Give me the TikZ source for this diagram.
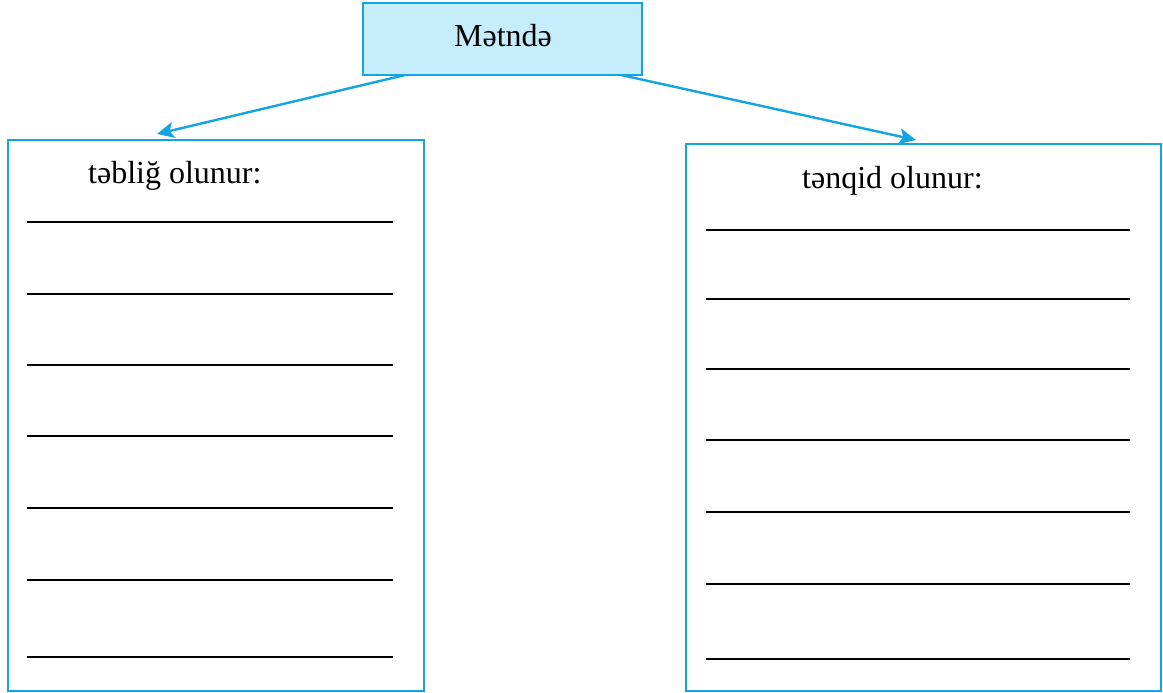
\documentclass[tikz,border=0pt]{standalone}
\usepackage{fontspec}
\setmainfont{Liberation Serif}
\usetikzlibrary{arrows.meta}
\definecolor{boxblue}{HTML}{12A4E3}
\definecolor{boxfill}{HTML}{C5EDFC}
\begin{document}
\begin{tikzpicture}[x=1pt,y=-1pt,
  frame/.style={draw=boxblue,line width=2.2pt},
  pointer/.style={boxblue,line width=2.4pt,-{Stealth[length=17pt,width=16pt,inset=4pt]}},
  label/.style={font=\fontsize{32}{38}\selectfont,inner sep=0pt},
  blank/.style={line width=2.4pt}]
\useasboundingbox (0,0) rectangle (1163,693);
% top box
\node[frame,fill=boxfill,minimum width=279pt,minimum height=72pt,inner sep=0pt] (top) at (502.5,39) {};
\node[label] (topText) at (503,36) {Mətndə};
% the two boxes
\node[frame,minimum width=416pt,minimum height=551pt,inner sep=0pt] (left) at (216,415.5) {};
\node[frame,minimum width=475pt,minimum height=547pt,inner sep=0pt] (right) at (923.5,417.5) {};
\node[label,anchor=west] (leftText) at (88,176) {təbliğ olunur:};
\node[label,anchor=west] (rightText) at (802,181) {tənqid olunur:};
% arrows
\coordinate (leftFrom) at (405,75);
\coordinate (leftTo) at (157,134);
\coordinate (rightFrom) at (621,75);
\coordinate (rightTo) at (916,140);
\draw[pointer] (leftFrom) -- (leftTo);
\draw[pointer] (rightFrom) -- (rightTo);
% lines to fill in
\foreach \y in {222,294,365,436,508,580,657}
  \draw[blank] (27,\y) -- (393,\y);
\foreach \y in {230,299,369,440,512,584,659}
  \draw[blank] (706,\y) -- (1130,\y);
\end{tikzpicture}
\end{document}
